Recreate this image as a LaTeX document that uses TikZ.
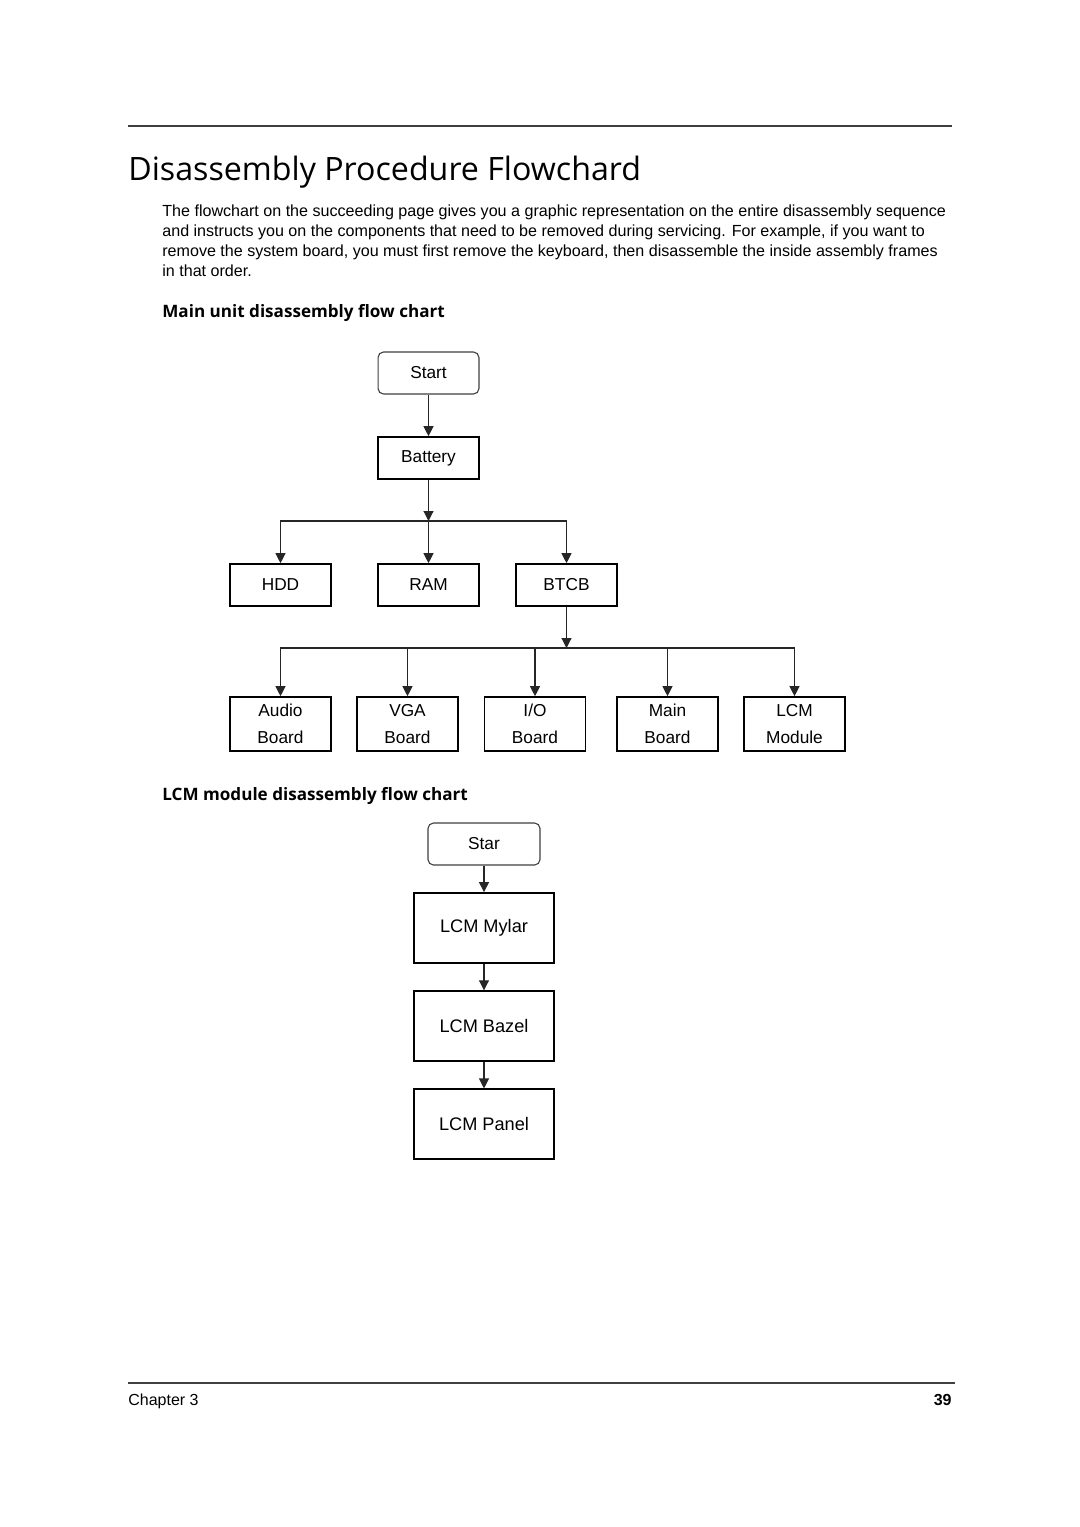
\documentclass[tikz,border=0pt]{standalone}
\usepackage{fontspec}
\setmainfont{Liberation Sans}
\newfontfamily\headfont{Open Sans}
\usetikzlibrary{positioning,arrows.meta}

\tikzset{
  box/.style={draw, line width=0.9pt, minimum width=55.5pt, minimum height=23.1pt,
    inner sep=0pt, font=\fontsize{9.5}{11}\selectfont},
  startbox/.style={box, draw=black!75, line width=0.6pt, rounded corners=3pt},
  boardbox/.style={box, minimum height=29.7pt, align=center, font=\fontsize{9.5}{14.8}\selectfont},
  lcmbox/.style={box, minimum width=77pt, minimum height=38.5pt, font=\fontsize{10}{12}\selectfont},
  arr/.style={-{Triangle[length=5.5pt,width=5.5pt]}, line width=0.6pt, black!85},
  rule/.style={line width=0.7pt, black!75},
  heading/.style={anchor=base west, inner sep=0pt, font=\headfont\bfseries\fontsize{9.4}{11}\selectfont},
}

\begin{document}
\begin{tikzpicture}[x=0.55pt,y=-0.55pt]
  \useasboundingbox[fill=white] (0,0) rectangle (1080,1527);

  % page header
  \draw [rule] (128,126) -- (952,126);
  \node [anchor=base west, inner sep=0pt, font=\headfont\fontsize{17.7}{20}\selectfont] (title)
    at (128,180) {Disassembly Procedure Flowchard};
  \node [anchor=north west, inner sep=0pt, align=left, font=\fontsize{8.85}{11}\selectfont] (intro)
    at (162,204) {The flowchart on the succeeding page gives you a graphic representation on the entire disassembly sequence\\
    and instructs you on the components that need to be removed during servicing. For example, if you want to\\
    remove the system board, you must first remove the keyboard, then disassemble the inside assembly frames\\
    in that order.};

  % main unit
  \node [heading] (mainhead) at (162,317) {Main unit disassembly flow chart};

  \node [startbox] (start) at (428.5,373) {Start};
  \node [box] (battery) at (428.5,458) {Battery};
  \coordinate (split1) at (428.5,521);
  \node [box] (hdd) at (280.5,585) {HDD};
  \node [box] (ram) at (428.5,585) {RAM};
  \node [box] (btcb) at (566.5,585) {BTCB};
  \coordinate (split2) at (566.5,648);

  \node [boardbox] (audio) at (280.5,724) {Audio\\Board};
  \node [boardbox] (vga) at (407.5,724) {VGA\\Board};
  \node [boardbox] (io) at (535,724) {I/O\\Board};
  \node [boardbox] (main) at (667.5,724) {Main\\Board};
  \node [boardbox] (lcm) at (794.5,724) {LCM\\Module};

  \draw [arr] (start) -- (battery);
  \draw [arr] (battery) -- (split1);
  \draw [arr] (split1) -| (hdd);
  \draw [arr] (split1) -- (ram);
  \draw [arr] (split1) -| (btcb);
  \draw [arr] (btcb) -- (split2);
  \foreach \n in {audio,vga,io,main,lcm}
    \draw [arr] (split2) -| (\n);

  % lcm module
  \node [heading] (lcmhead) at (162,800) {LCM module disassembly flow chart};

  \node [startbox, minimum width=61.6pt] (star) at (484,844) {Star};
  \node [lcmbox, below=14.6pt of star] (mylar) {LCM Mylar};
  \node [lcmbox, below=14.6pt of mylar] (bazel) {LCM Bazel};
  \node [lcmbox, below=14.6pt of bazel] (panel) {LCM Panel};

  \draw [arr] (star) -- (mylar);
  \draw [arr] (mylar) -- (bazel);
  \draw [arr] (bazel) -- (panel);

  % page footer
  \draw [rule] (128,1383) -- (955,1383);
  \node [anchor=base west, inner sep=0pt, font=\fontsize{8.8}{11}\selectfont] (chapter)
    at (128,1405) {Chapter 3};
  \node [anchor=base east, inner sep=0pt, font=\bfseries\fontsize{8.8}{11}\selectfont] (pageno)
    at (952,1405) {39};

\end{tikzpicture}
\end{document}
